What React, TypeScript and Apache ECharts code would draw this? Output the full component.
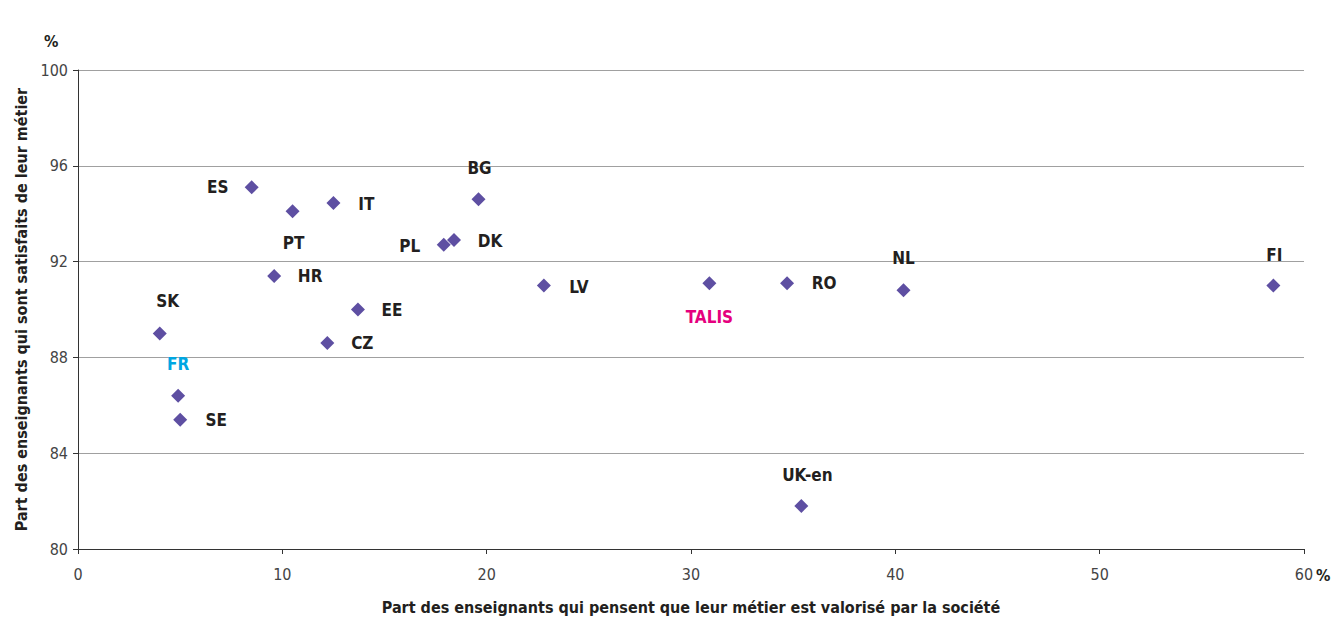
import React, { useEffect, useRef } from "react";
import * as echarts from "echarts";

const countries = ["SK", "FR", "SE", "ES", "PT", "IT", "HR", "EE", "CZ", "PL", "DK", "BG", "LV", "TALIS", "RO", "NL", "FI", "UK-en"];
const valorise = [4.0, 4.9, 5.0, 8.5, 10.5, 12.5, 9.6, 13.7, 12.2, 17.9, 18.4, 19.6, 22.8, 30.9, 34.7, 40.4, 58.5, 35.4];
const satisfaits = [89.0, 86.4, 85.4, 95.1, 94.1, 94.45, 91.4, 90.0, 88.6, 92.7, 92.9, 94.6, 91.0, 91.1, 91.1, 90.8, 91.0, 81.8];
const xTicks = [0, 10, 20, 30, 40, 50, 60];
const yTicks = [80, 84, 88, 92, 96, 100];

const labelOffsets: Record<string, [number, number]> = {
  SK: [8, -32], FR: [0, -32], SE: [36, 0], ES: [-34, 0], PT: [1, 32], IT: [33, 1],
  HR: [36, 0], EE: [34, 0], CZ: [35, 0], PL: [-34, 1], DK: [36, 1], BG: [1, -31],
  LV: [35, 1], TALIS: [0, 34], RO: [37, 0], NL: [0, -32], FI: [1, -31], "UK-en": [6, -31],
};
const labelColors: Record<string, string> = { TALIS: "#E5007E", FR: "#00A6E2" };

const FONT = "'Liberation Sans Narrow', 'DejaVu Sans Condensed', 'Roboto', sans-serif";

export default function App() {
  const ref = useRef<HTMLDivElement>(null);
  useEffect(() => {
    if (!ref.current) return;
    const chart = echarts.init(ref.current, undefined, { renderer: "svg" });
    const data = countries.map((c, i) => ({
      value: [valorise[i], satisfaits[i]],
      name: c,
      label: {
        show: true,
        position: "inside",
        align: "center",
        verticalAlign: "middle",
        offset: labelOffsets[c],
        color: labelColors[c] || "#231F20",
        fontFamily: FONT,
        fontWeight: "bold",
        fontSize: 17,
        formatter: c,
      },
    }));
    chart.setOption({
      animation: false,
      grid: { left: 78, right: 27, top: 70, bottom: 68 },
      xAxis: {
        type: "value",
        min: xTicks[0],
        max: xTicks[xTicks.length - 1],
        interval: 10,
        name: "Part des enseignants qui pensent que leur métier est valorisé par la société",
        nameLocation: "middle",
        nameGap: 50,
        nameTextStyle: { fontFamily: FONT, fontWeight: "bold", fontSize: 16, color: "#231F20" },
        axisLine: { show: true, lineStyle: { color: "#333", width: 1 } },
        axisTick: { show: true, length: 5, lineStyle: { color: "#333" } },
        axisLabel: { fontFamily: FONT, fontSize: 16, color: "#444", margin: 17 },
        splitLine: { show: false },
      },
      yAxis: {
        type: "value",
        min: yTicks[0],
        max: yTicks[yTicks.length - 1],
        interval: 4,
        name: "Part des enseignants qui sont satisfaits de leur métier",
        nameLocation: "middle",
        nameRotate: 90,
        nameGap: 48,
        nameTextStyle: { fontFamily: FONT, fontWeight: "bold", fontSize: 16, color: "#231F20" },
        axisLine: { show: true, lineStyle: { color: "#333", width: 1 } },
        axisTick: { show: true, length: 5, lineStyle: { color: "#333" } },
        axisLabel: { fontFamily: FONT, fontSize: 16, color: "#444", margin: 10 },
        splitLine: { show: true, lineStyle: { color: "#A0A0A0", width: 1 } },
      },
      graphic: [
        {
          type: "text",
          left: 44,
          top: 33,
          style: { text: "%", fontFamily: FONT, fontWeight: "bold", fontSize: 16, fill: "#231F20" },
        },
        {
          type: "text",
          left: 1316,
          top: 567,
          style: { text: "%", fontFamily: FONT, fontWeight: "bold", fontSize: 16, fill: "#231F20" },
        },
      ],
      series: [
        {
          type: "scatter",
          symbol: "diamond",
          symbolSize: 14,
          itemStyle: { color: "#5E4FA2", opacity: 1 },
          data,
        },
      ],
    });
    return () => chart.dispose();
  }, []);
  return <div ref={ref} style={{ width: 1331, height: 620, position: "absolute", left: 0, top: 0, overflow: "hidden" }} />;
}
